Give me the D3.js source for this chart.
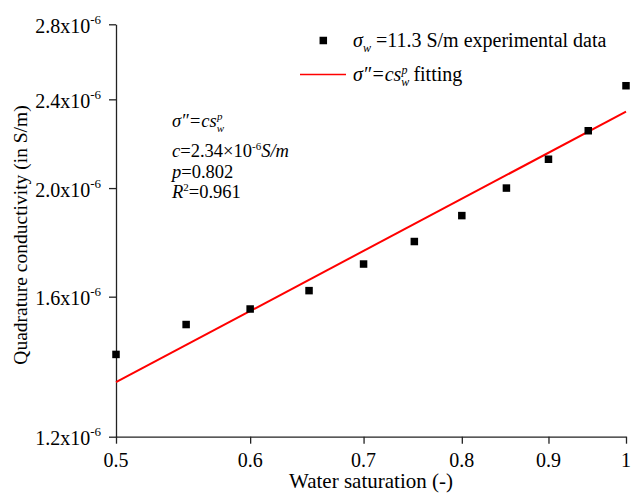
<!DOCTYPE html>
<html lang="en">
<head>
	<meta charset="UTF-8">
	<title>Quadrature conductivity vs water saturation</title>
	<script type="text/javascript" src="https://cdn.jsdelivr.net/npm/d3@7"></script>
	<style>
		body {
			margin: 0;
			background: #fff;
		}

		svg text {
			font-family: "Liberation Serif", "Tinos", "Times New Roman", "DejaVu Serif", serif;
			fill: #000;
		}
	</style>
</head>
<body>
<div id="viz"></div>

<script type="text/javascript">
	// water saturation (-)
	var saturation = [0.5, 0.55, 0.6, 0.65, 0.7, 0.75, 0.8, 0.85, 0.9, 0.95, 1.0];
	// quadrature conductivity (S/m)
	var conductivity = [1.421e-6, 1.511e-6, 1.560e-6, 1.620e-6, 1.711e-6, 1.792e-6,
		1.890e-6, 2.000e-6, 2.122e-6, 2.250e-6, 2.468e-6];

	// power law fit sigma'' = c * sw^p
	var fitC = 2.34e-6;
	var fitP = 0.802;

	var xTicks = [0.5, 0.6, 0.7, 0.8, 0.9, 1];
	var xTickLabels = ['0.5', '0.6', '0.7', '0.8', '0.9', '1'];
	var xMinor = [0.55, 0.65, 0.75, 0.85, 0.95];
	var yTicks = [1.2e-6, 1.6e-6, 2.0e-6, 2.4e-6, 2.8e-6];
	var yTickLabels = ['1.2', '1.6', '2.0', '2.4', '2.8'];
	var yMinor = [1.4e-6, 1.8e-6, 2.2e-6, 2.6e-6];

	var width = 631, height = 493;

	var x = d3.scaleLog()
		.domain([0.5, 1])
		.range([116, 626]);

	var y = d3.scaleLog()
		.domain([1.2e-6, 2.8e-6])
		.range([436.7, 24.3]);

	var svg = d3.select('#viz')
		.append('svg')
		.attr('width', width)
		.attr('height', height);

	// axes
	var gx = svg.append('g')
		.attr('transform', 'translate(0,' + y.range()[0] + ')');
	gx.call(d3.axisBottom(x).tickValues(xMinor).tickSize(4).tickFormat(''));
	gx.select('.domain').remove();
	gx.call(d3.axisBottom(x).tickValues(xTicks).tickSize(7).tickSizeOuter(0).tickFormat(''));

	var gy = svg.append('g')
		.attr('transform', 'translate(' + x.range()[0] + ',0)');
	gy.call(d3.axisLeft(y).tickValues(yMinor).tickSize(4).tickFormat(''));
	gy.select('.domain').remove();
	gy.call(d3.axisLeft(y).tickValues(yTicks).tickSize(7).tickSizeOuter(0).tickFormat(''));

	svg.selectAll('.domain, .tick line')
		.attr('stroke', '#222')
		.attr('stroke-width', 1.3);

	// tick labels
	svg.append('g').selectAll('text')
		.data(xTicks)
		.enter().append('text')
		.attr('x', function (d) { return x(d); })
		.attr('y', y.range()[0] + 30)
		.attr('text-anchor', 'middle')
		.style('font-size', '20px')
		.text(function (d, i) { return xTickLabels[i]; });

	var yl = svg.append('g').selectAll('text')
		.data(yTicks)
		.enter().append('text')
		.attr('x', x.range()[0] - 15)
		.attr('y', function (d) { return y(d) + 8.5; })
		.attr('text-anchor', 'end')
		.style('font-size', '20px');
	yl.append('tspan').text(function (d, i) { return yTickLabels[i] + 'x10'; });
	yl.append('tspan')
		.attr('dy', -9)
		.style('font-size', '13px')
		.text('-6');

	// axis titles
	svg.append('text')
		.attr('x', 371)
		.attr('y', 488)
		.attr('text-anchor', 'middle')
		.style('font-size', '21px')
		.text('Water saturation (-)');

	svg.append('text')
		.attr('transform', 'translate(27,235) rotate(-90)')
		.attr('text-anchor', 'middle')
		.style('font-size', '19.5px')
		.text('Quadrature conductivity (in S/m)');

	// fit line
	var line = d3.line()
		.x(function (d) { return x(d); })
		.y(function (d) { return y(fitC * Math.pow(d, fitP)); });

	svg.append('path')
		.datum(x.domain())
		.attr('d', line)
		.attr('fill', 'none')
		.attr('stroke', '#ff0000')
		.attr('stroke-width', 2);

	// data points
	var ms = 7.5;
	svg.append('g').selectAll('rect')
		.data(saturation)
		.enter().append('rect')
		.attr('x', function (d) { return x(d) - ms / 2; })
		.attr('y', function (d, i) { return y(conductivity[i]) - ms / 2; })
		.attr('width', ms)
		.attr('height', ms)
		.attr('fill', '#000');

	// legend
	var lg = svg.append('g').style('font-size', '20px');
	lg.append('rect')
		.attr('x', 323.3 - ms / 2)
		.attr('y', 40.5 - ms / 2)
		.attr('width', ms)
		.attr('height', ms)
		.attr('fill', '#000');
	var t1 = lg.append('text').attr('x', 353).attr('y', 47);
	t1.append('tspan').style('font-style', 'italic').text('σ');
	t1.append('tspan').style('font-style', 'italic').style('font-size', '12px').attr('dy', 5).text('w');
	t1.append('tspan').attr('dy', -5).text(' =11.3 S/m experimental data');

	lg.append('line')
		.attr('x1', 300).attr('x2', 346)
		.attr('y1', 74.5).attr('y2', 74.5)
		.attr('stroke', '#ff0000')
		.attr('stroke-width', 1.5);
	var t2 = lg.append('text').attr('x', 353).attr('y', 81);
	t2.append('tspan').style('font-style', 'italic').text('σ″=cs');
	t2.append('tspan').style('font-style', 'italic').style('font-size', '12px').attr('dy', 5).text('w');
	t2.append('tspan').style('font-style', 'italic').style('font-size', '12px').attr('dx', -8).attr('dy', -12).text('p');
	t2.append('tspan').attr('dx', 6).attr('dy', 7).text('fitting');

	// annotation
	var an = svg.append('g').style('font-size', '18.5px');
	var a1 = an.append('text').attr('x', 172).attr('y', 127);
	a1.append('tspan').style('font-style', 'italic').text('σ″=cs');
	a1.append('tspan').style('font-style', 'italic').style('font-size', '11px').attr('dy', 5).text('w');
	a1.append('tspan').style('font-style', 'italic').style('font-size', '11px').attr('dx', -7).attr('dy', -12).text('p');

	var a2 = an.append('text').attr('x', 172).attr('y', 157);
	a2.append('tspan').style('font-style', 'italic').text('c');
	a2.append('tspan').text('=2.34×10');
	a2.append('tspan').style('font-size', '11px').attr('dy', -7).text('-6');
	a2.append('tspan').style('font-style', 'italic').attr('dy', 7).text('S/m');

	var a3 = an.append('text').attr('x', 172).attr('y', 178);
	a3.append('tspan').style('font-style', 'italic').text('p');
	a3.append('tspan').text('=0.802');

	var a4 = an.append('text').attr('x', 172).attr('y', 198);
	a4.append('tspan').style('font-style', 'italic').text('R');
	a4.append('tspan').style('font-size', '11px').attr('dy', -7).text('2');
	a4.append('tspan').attr('dy', 7).text('=0.961');
</script>
</body>
</html>
